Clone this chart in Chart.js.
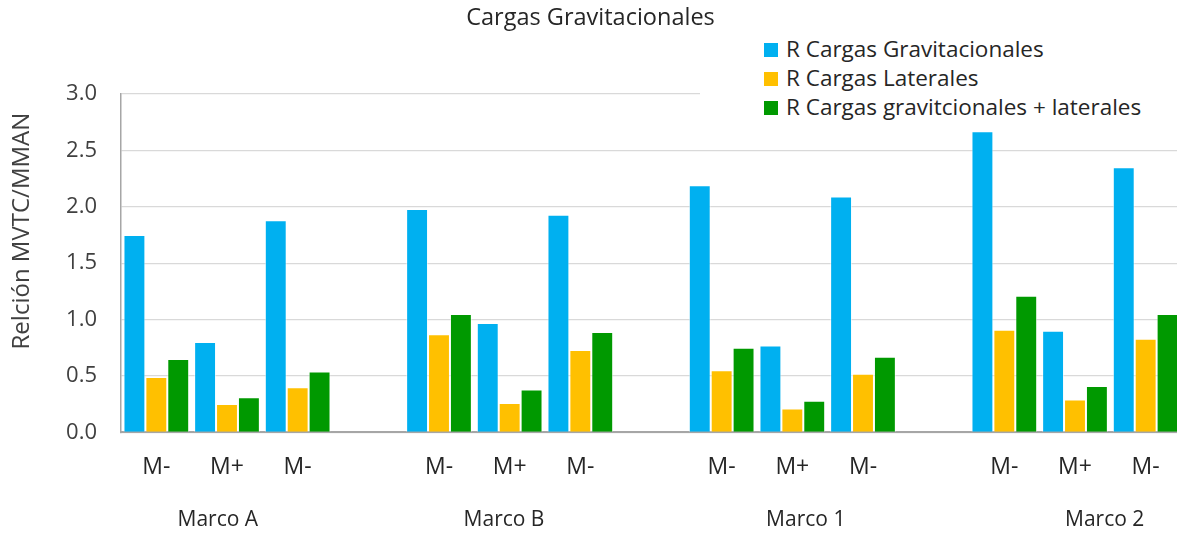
<!DOCTYPE html>
<html>
<head>
<meta charset="utf-8">
<script src="https://cdn.jsdelivr.net/npm/chart.js@4/dist/chart.umd.min.js"></script>
<style>
  html, body { margin: 0; padding: 0; background: #fff; overflow: hidden; }
  .wrap { position: relative; width: 1177px; height: 535px; overflow: hidden; }
  #chart { position: absolute; left: 0; top: 0; }
  .legend {
    position: absolute; left: 700px; top: 30px; width: 477px; height: 94px;
    background: #fff; font-family: "Open Sans", sans-serif; font-size: 22.5px; color: #262626;
  }
  .legend div { position: absolute; left: 64px; height: 28px; line-height: 28px; white-space: nowrap; }
  .legend span { display: inline-block; width: 14px; height: 14px; margin-right: 8px; vertical-align: 0px; }
</style>
</head>
<body>
<div class="wrap">
  <canvas id="chart" width="1182" height="535"></canvas>
  <div class="legend" id="legend"></div>
</div>
<script>
// categories along the x axis (empty slots separate the frames)
const categories = ['M-', 'M+', 'M-', '', 'M-', 'M+', 'M-', '', 'M-', 'M+', 'M-', '', 'M-', 'M+', 'M-'];
const frames = ['Marco A', 'Marco B', 'Marco 1', 'Marco 2'];
const framePos = [0.87, 4.92, 9.19, 13.42];   // category index under which each frame name sits

const seriesNames = ['R Cargas Gravitacionales', 'R Cargas Laterales', 'R Cargas gravitcionales + laterales'];
const gravitacionales = [1.75, 0.80, 1.88, null, 1.98, 0.97, 1.93, null, 2.19, 0.77, 2.09, null, 2.67, 0.90, 2.35];
const laterales       = [0.49, 0.25, 0.40, null, 0.87, 0.26, 0.73, null, 0.55, 0.21, 0.52, null, 0.91, 0.29, 0.83];
const combinadas      = [0.65, 0.31, 0.54, null, 1.05, 0.38, 0.89, null, 0.75, 0.28, 0.67, null, 1.21, 0.41, 1.05];
const colors = ['#00B0F0', '#FFC000', '#009900'];

const yTicks = [0, 0.5, 1, 1.5, 2, 2.5, 3];

const font = 'Open Sans';
const textColor = '#404040';

const datasets = [gravitacionales, laterales, combinadas].map((data, i) => ({
  label: seriesNames[i],
  data: data,
  backgroundColor: colors[i],
  borderColor: 'rgba(255,255,255,0.55)',
  borderWidth: 1,
  borderSkipped: 'bottom',
  categoryPercentage: 0.93,
  barPercentage: 1.0
}));

// html legend sits over the top right corner of the plot
const legendEl = document.getElementById('legend');
seriesNames.forEach((name, i) => {
  const row = document.createElement('div');
  row.style.top = (5 + i * 29) + 'px';
  row.innerHTML = '<span style="background:' + colors[i] + '"></span>' + name;
  legendEl.appendChild(row);
});

// second row of x labels: frame names below the M-/M+ labels
const frameLabels = {
  id: 'frameLabels',
  afterDraw(chart) {
    const x = chart.scales.x;
    const ctx = chart.ctx;
    ctx.save();
    ctx.font = '21px "' + font + '"';
    ctx.fillStyle = '#262626';
    ctx.textAlign = 'center';
    ctx.textBaseline = 'middle';
    frames.forEach((name, i) => {
      ctx.fillText(name, x.getPixelForValue(framePos[i]), x.bottom + 42);
    });
    ctx.restore();
  }
};

new Chart(document.getElementById('chart'), {
  type: 'bar',
  data: { labels: categories, datasets: datasets },
  plugins: [frameLabels],
  options: {
    responsive: false,
    animation: false,
    layout: { padding: { left: 0, right: 1, top: 0, bottom: 56.7 } },
    plugins: {
      legend: { display: false },
      tooltip: { enabled: false },
      title: {
        display: true,
        text: 'Cargas Gravitacionales',
        color: '#262626',
        font: { family: font, size: 23.5, weight: 'normal' },
        padding: { top: 4, bottom: 61.8 }
      }
    },
    scales: {
      x: {
        type: 'category',
        grid: { display: false, drawTicks: false },
        border: { display: true, color: '#a6a6a6', width: 2 },
        ticks: {
          color: '#262626',
          font: { family: font, size: 23 },
          padding: 21,
          autoSkip: false,
          maxRotation: 0
        },
        afterFit: (scale) => { scale.height = 46; }
      },
      y: {
        min: 0,
        max: 3,
        afterBuildTicks: (axis) => { axis.ticks = yTicks.map(v => ({ value: v })); },
        grid: { color: '#d9d9d9', lineWidth: 1.2, drawTicks: false },
        border: { display: true, color: '#a6a6a6', width: 1.5 },
        ticks: {
          color: textColor,
          font: { family: font, size: 22 },
          padding: 24,
          callback: (v) => v.toFixed(1)
        },
        title: {
          display: true,
          text: 'Relción MVTC/MMAN   ',
          align: 'end',
          color: textColor,
          font: { family: font, size: 24 },
          padding: { top: 7.6, bottom: 0 }
        },
        afterFit: (scale) => { scale.width = 121; }
      }
    }
  }
});
</script>
</body>
</html>
